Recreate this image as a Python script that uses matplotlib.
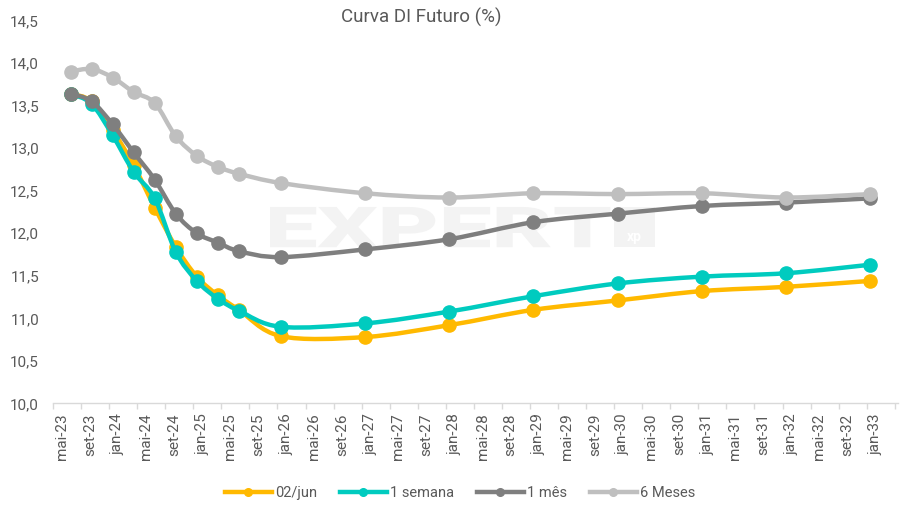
import matplotlib
matplotlib.use("Agg")
import matplotlib.pyplot as plt
import numpy as np
from matplotlib.path import Path
from matplotlib.patches import PathPatch, Rectangle
from matplotlib.lines import Line2D
from matplotlib.textpath import TextPath
from matplotlib.font_manager import FontProperties
from matplotlib.transforms import Affine2D
import matplotlib.ticker as mticker

plt.rcParams['font.family'] = ['Roboto', 'DejaVu Sans']

# vencimentos dos contratos DI
contracts = ["jul-23", "out-23", "jan-24", "abr-24", "jul-24", "out-24", "jan-25", "abr-25",
             "jul-25", "jan-26", "jan-27", "jan-28", "jan-29", "jan-30", "jan-31", "jan-32", "jan-33"]

di_02jun = [13.64, 13.55, 13.21, 12.80, 12.30, 11.84, 11.49, 11.27, 11.10,
            10.79, 10.78, 10.92, 11.10, 11.21, 11.32, 11.37, 11.44]
di_1sem = [13.64, 13.52, 13.15, 12.72, 12.41, 11.78, 11.44, 11.23, 11.09,
           10.90, 10.94, 11.08, 11.26, 11.41, 11.49, 11.53, 11.63]
di_1mes = [13.64, 13.55, 13.28, 12.95, 12.63, 12.23, 12.00, 11.89, 11.79,
           11.72, 11.81, 11.93, 12.13, 12.23, 12.32, 12.36, 12.41]
di_6mes = [13.90, 13.93, 13.83, 13.66, 13.53, 13.14, 12.91, 12.78, 12.70,
           12.59, 12.47, 12.42, 12.47, 12.46, 12.47, 12.42, 12.46]

series_names = ["02/jun", "1 semana", "1 mês", "6 Meses"]
series_colors = ["#FFB900", "#00CBBF", "#7F7F7F", "#BFBFBF"]

month_abbr = ["jan", "fev", "mar", "abr", "mai", "jun", "jul", "ago", "set", "out", "nov", "dez"]

# axis labels every 4 months, mai-23 .. jan-33
tick_labels = []
for k in range(30):
    m = 4 + 4 * k
    tick_labels.append(month_abbr[m % 12] + "-" + str(23 + m // 12))


def month_index(label):
    # months since mai-23
    mon, yr = label.split("-")
    return (int(yr) - 23) * 12 + month_abbr.index(mon) - 4


def smooth_path(x, y, t=1.0 / 6):
    # bezier smoothing like excel's "smoothed line"
    pts = np.column_stack([x, y])
    n = len(pts)
    verts = [pts[0]]
    codes = [Path.MOVETO]
    for i in range(n - 1):
        p0 = pts[max(i - 1, 0)]
        p1 = pts[i]
        p2 = pts[i + 1]
        p3 = pts[min(i + 2, n - 1)]
        verts += [p1 + (p2 - p0) * t, p2 - (p3 - p1) * t, p2]
        codes += [Path.CURVE4] * 3
    return Path(verts, codes)


xs = np.array([month_index(c) for c in contracts]) + 0.5

fig = plt.figure(figsize=(9.14, 5.18), dpi=100)
ax = fig.add_axes([0.058, 0.2212, 0.924, 0.7392])

# watermark, stretched into a box (axes fraction)
wm = TextPath((0, 0), "EXPERT", size=10, prop=FontProperties(family='Roboto', weight='black'))
ext = wm.get_extents()
box = (0.257, 0.408, 0.660, 0.513)
tr = (Affine2D().translate(-ext.x0, -ext.y0)
      .scale((box[2] - box[0]) / ext.width, (box[3] - box[1]) / ext.height)
      .translate(box[0], box[1]))
ax.add_patch(PathPatch(tr.transform_path(wm), facecolor="#F3F3F3", edgecolor='none',
                       transform=ax.transAxes, zorder=0))
ax.add_patch(Rectangle((0.664, 0.408), 0.049, 0.105, transform=ax.transAxes,
                       facecolor="#F3F3F3", edgecolor='none', zorder=0))
ax.text(0.688, 0.435, "xp", transform=ax.transAxes, fontsize=10, fontweight='bold',
        color="white", ha='center', va='center', zorder=0)

all_series = [di_02jun, di_1sem, di_1mes, di_6mes]
handles = []
for vals, name, col in zip(all_series, series_names, series_colors):
    ax.add_patch(PathPatch(smooth_path(xs, vals), facecolor='none', edgecolor=col,
                           linewidth=3.2, capstyle='round', zorder=2))
    ax.plot(xs, vals, linestyle='none', marker='o', markersize=9.5, color=col, zorder=2)
    handles.append(Line2D([], [], color=col, linewidth=3.2, marker='o', markersize=5.5, label=name))

ax.set_xlim(0, 120.4)
ax.set_ylim(10, 14.5)

ax.yaxis.set_major_locator(mticker.MultipleLocator(0.5))
ax.yaxis.set_major_formatter(mticker.FuncFormatter(lambda v, p: ('%.1f' % v).replace('.', ',')))
ax.tick_params(axis='y', length=0, pad=10, labelsize=11, labelcolor="#595959")

ax.xaxis.set_major_locator(mticker.FixedLocator(np.arange(30) * 4 + 1.25))
ax.set_xticklabels(tick_labels, rotation=90, ha='center', va='top')
ax.xaxis.set_minor_locator(mticker.FixedLocator(np.arange(31) * 4))
ax.tick_params(axis='x', which='major', length=0, pad=7, labelsize=11, labelcolor="#595959")
ax.tick_params(axis='x', which='minor', length=4, width=1, color="#D9D9D9")

for s in ['top', 'right', 'left']:
    ax.spines[s].set_visible(False)
ax.spines['bottom'].set_color("#D9D9D9")
ax.spines['bottom'].set_linewidth(1)

fig.text(421 / 914, 1 - 17 / 518, "Curva DI Futuro (%)", ha='center', va='center',
         fontsize=13.5, color="#595959")

fig.legend(handles=handles, loc='center', bbox_to_anchor=(460 / 914, 1 - 493 / 518), ncol=4,
           frameon=False, fontsize=10.5, handlelength=3.2, handletextpad=0.2,
           columnspacing=1.6, labelcolor="#595959")

fig.savefig("out.png", dpi=100)
